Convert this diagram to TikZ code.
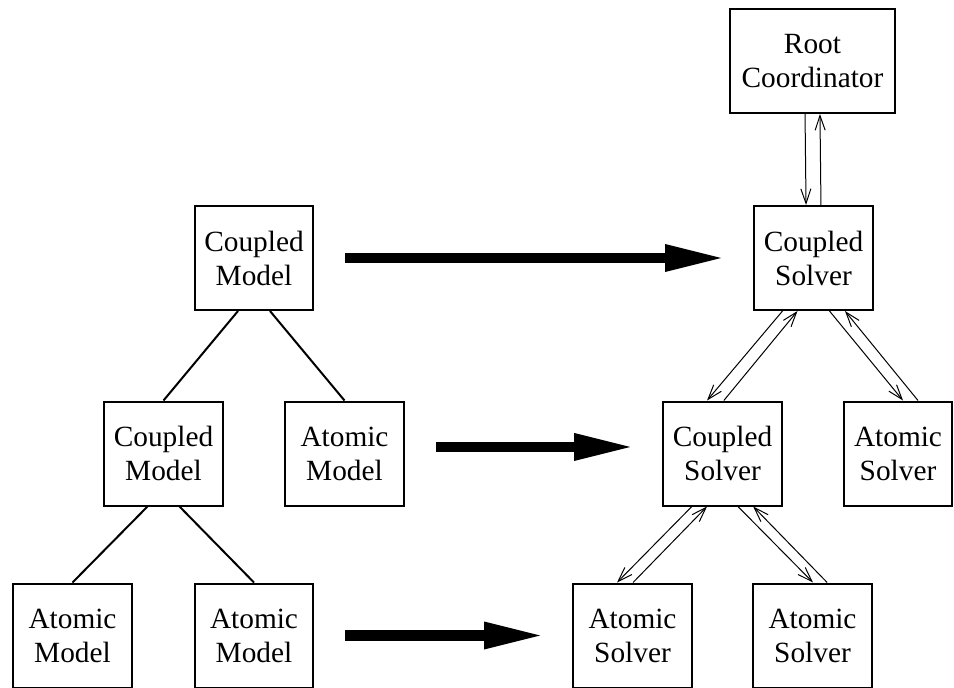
\documentclass[tikz,border=0pt]{standalone}
\usepackage{fontspec}
\setmainfont{Liberation Serif}
\newfontfamily\boxfont{Liberation Serif}
\usetikzlibrary{arrows.meta}

\tikzset{
	blk/.style={draw, line width=1.5pt, minimum width=89pt, minimum height=78pt,
		inner sep=0pt, align=center, font=\boxfont\fontsize{22}{25.5}\selectfont},
	tree/.style={line width=1.5pt},
	msg/.style={line width=0.75pt, -{Straight Barb[length=11pt,width=7.5pt]}},
	big/.style={line width=8pt, -{Triangle[length=42pt,width=21pt,line width=0pt]},
		shorten <=23pt, shorten >=24pt}
}

\begin{document}
\begin{tikzpicture}[x=0.75pt,y=-0.75pt]
			\clip (0,0) rectangle (954,687);

			% models
			\node[blk] (cmA) at (254,258) {Coupled\\Model};
			\node[blk] (cmB) at (163.5,453.5) {Coupled\\Model};
			\node[blk] (amB) at (344.5,453.5) {Atomic\\Model};
			\node[blk] (amC) at (72.5,635.5) {Atomic\\Model};
			\node[blk] (amD) at (254,635.5) {Atomic\\Model};

			% solvers
			\node[blk, minimum width=124pt] (root) at (812.5,61) {Root\\Coordinator};
			\node[blk] (csA) at (813.5,258) {Coupled\\Solver};
			\node[blk] (csB) at (722.5,453.5) {Coupled\\Solver};
			\node[blk, minimum width=81pt] (asB) at (898,453.5) {Atomic\\Solver};
			\node[blk] (asC) at (632.5,635.5) {Atomic\\Solver};
			\node[blk] (asD) at (812.5,635.5) {Atomic\\Solver};

			\draw[tree] ([xshift=-12pt]cmA.south) -- (cmB.north);
			\draw[tree] ([xshift=12pt]cmA.south) -- (amB.north);
			\draw[tree] ([xshift=-12pt]cmB.south) -- (amC.north);
			\draw[tree] ([xshift=12pt]cmB.south) -- (amD.north);

			\draw[msg] ([xshift=-5.6pt]root.south) -- ([xshift=-5.6pt]csA.north);
			\draw[msg] ([xshift=5.6pt]csA.north) -- ([xshift=5.6pt]root.south);

			\draw[msg] ([xshift=-23.25pt]csA.south) -- ([xshift=-11.6pt]csB.north);
			\draw[msg] ([xshift=1pt]csB.north) -- ([xshift=-12pt]csA.south);
			\draw[msg] ([xshift=12pt]csA.south) -- ([xshift=3.75pt]asB.north);
			\draw[msg] ([xshift=15pt]asB.north) -- ([xshift=23.6pt]csA.south);

			\draw[msg] ([xshift=-23pt]csB.south) -- ([xshift=-11.6pt]asC.north);
			\draw[msg] ([xshift=0.4pt]asC.north) -- ([xshift=-11.6pt]csB.south);
			\draw[msg] ([xshift=11.6pt]csB.south) -- ([xshift=0.4pt]asD.north);
			\draw[msg] ([xshift=11pt]asD.north) -- ([xshift=23pt]csB.south);

			\draw[big] (cmA.east) -- (csA.west);
			\draw[big] ([yshift=4.9pt]amB.east) -- ([yshift=4.9pt]csB.west);
			\draw[big] (amD.east) -- (asC.west);
\end{tikzpicture}
\end{document}
